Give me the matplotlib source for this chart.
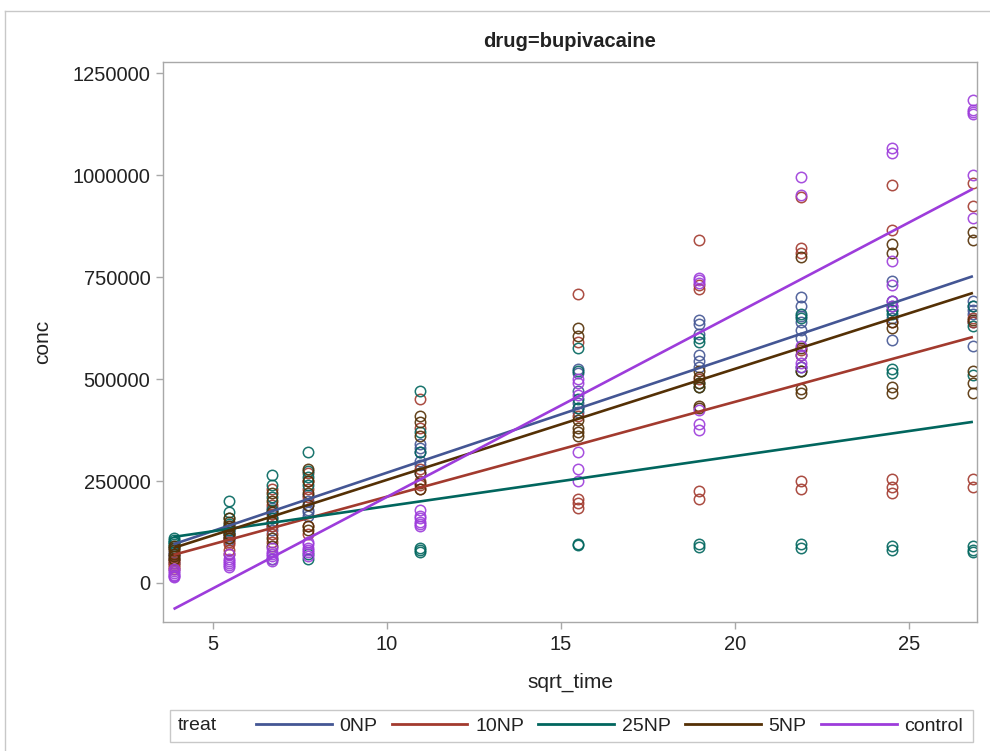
import matplotlib
matplotlib.use("Agg")
import matplotlib.pyplot as plt
from matplotlib.lines import Line2D
from matplotlib.patches import Rectangle

plt.rcParams['font.family'] = ['Liberation Sans', 'DejaVu Sans']

# sqrt of sampling time
sqrt_time = [3.873, 5.477, 6.708, 7.746, 10.954, 15.492, 18.974, 21.909, 24.495, 26.833]

treats = ["0NP", "10NP", "25NP", "5NP", "control"]
colors = ["#445694", "#A23A2E", "#01665E", "#543005", "#9D3CDB"]

# concentrations: one row per time point, replicates within a row
conc_0NP = [
    [60e3, 75e3, 85e3, 50e3, 65e3, 70e3],
    [130e3, 115e3, 140e3, 110e3, 125e3, 105e3],
    [160e3, 140e3, 175e3, 150e3, 130e3, 185e3],
    [200e3, 190e3, 175e3, 165e3, 215e3, 180e3],
    [340e3, 330e3, 320e3, 290e3, 270e3, 300e3],
    [525e3, 515e3, 470e3, 440e3, 420e3, 430e3],
    [645e3, 635e3, 610e3, 560e3, 545e3, 530e3],
    [700e3, 680e3, 640e3, 620e3, 600e3, 655e3],
    [740e3, 690e3, 680e3, 670e3, 595e3, 650e3],
    [690e3, 680e3, 670e3, 640e3, 580e3, 660e3],
]
conc_10NP = [
    [35e3, 45e3, 55e3, 60e3, 40e3, 50e3],
    [80e3, 95e3, 110e3, 70e3, 100e3, 120e3],
    [230e3, 190e3, 140e3, 120e3, 170e3, 100e3],
    [250e3, 230e3, 210e3, 140e3, 270e3, 120e3],
    [450e3, 380e3, 280e3, 250e3, 240e3, 230e3],
    [708e3, 590e3, 410e3, 205e3, 195e3, 185e3],
    [840e3, 730e3, 720e3, 500e3, 225e3, 205e3],
    [945e3, 820e3, 810e3, 570e3, 250e3, 230e3],
    [975e3, 865e3, 640e3, 255e3, 235e3, 220e3],
    [980e3, 925e3, 650e3, 640e3, 255e3, 235e3],
]
conc_25NP = [
    [110e3, 100e3, 95e3, 105e3, 90e3, 100e3],
    [200e3, 175e3, 160e3, 145e3, 120e3, 130e3],
    [265e3, 240e3, 210e3, 180e3, 160e3, 60e3],
    [320e3, 275e3, 260e3, 240e3, 60e3, 70e3],
    [470e3, 370e3, 320e3, 85e3, 75e3, 80e3],
    [575e3, 520e3, 450e3, 430e3, 95e3, 92e3],
    [600e3, 590e3, 490e3, 480e3, 95e3, 88e3],
    [660e3, 650e3, 530e3, 520e3, 95e3, 85e3],
    [670e3, 660e3, 525e3, 515e3, 90e3, 82e3],
    [680e3, 630e3, 510e3, 90e3, 80e3, 75e3],
]
conc_5NP = [
    [80e3, 70e3, 90e3, 65e3, 85e3, 60e3],
    [150e3, 140e3, 120e3, 160e3, 110e3, 135e3],
    [220e3, 200e3, 110e3, 90e3, 175e3, 150e3],
    [280e3, 250e3, 220e3, 140e3, 130e3, 190e3],
    [410e3, 395e3, 360e3, 270e3, 245e3, 230e3],
    [625e3, 605e3, 400e3, 380e3, 370e3, 360e3],
    [520e3, 505e3, 490e3, 435e3, 430e3, 480e3],
    [800e3, 575e3, 560e3, 475e3, 465e3, 520e3],
    [830e3, 810e3, 640e3, 625e3, 480e3, 465e3],
    [860e3, 840e3, 520e3, 490e3, 465e3, 645e3],
]
conc_control = [
    [20e3, 25e3, 30e3, 15e3, 35e3, 18e3],
    [40e3, 50e3, 60e3, 70e3, 45e3, 55e3],
    [55e3, 65e3, 75e3, 85e3, 60e3, 70e3],
    [75e3, 85e3, 95e3, 100e3, 65e3, 80e3],
    [180e3, 165e3, 150e3, 140e3, 160e3, 145e3],
    [500e3, 490e3, 460e3, 320e3, 280e3, 250e3],
    [748e3, 742e3, 735e3, 425e3, 390e3, 375e3],
    [995e3, 950e3, 580e3, 560e3, 540e3, 530e3],
    [1065e3, 1055e3, 790e3, 730e3, 690e3, 680e3],
    [1185e3, 1160e3, 1150e3, 1000e3, 895e3, 1155e3],
]
conc_by_treat = [conc_0NP, conc_10NP, conc_25NP, conc_5NP, conc_control]

# fitted regression values at the first and last time point
fit_first = [95e3, 69e3, 113e3, 86e3, -64e3]
fit_last = [752e3, 603e3, 395e3, 711e3, 966e3]

W, H = 990, 751
fig = plt.figure(figsize=(W / 100, H / 100), dpi=100)

# outer frame
fig.add_artist(Line2D([5 / W, 1], [1 - 11 / H, 1 - 11 / H], color="#c8c8c8", lw=1))
fig.add_artist(Line2D([5 / W, 5 / W], [0, 1 - 11 / H], color="#c8c8c8", lw=1))

left, right, top, bottom = 163, 977, 62, 622
ax = fig.add_axes([left / W, 1 - bottom / H, (right - left) / W, (bottom - top) / H])

for conc, col in zip(conc_by_treat, colors):
    for xv, reps in zip(sqrt_time, conc):
        ax.plot([xv] * len(reps), reps, linestyle="none", marker="o", ms=7.5,
                mfc="none", mec=col, mew=1.1, alpha=0.9, zorder=2)

for f0, f1, col, name in zip(fit_first, fit_last, colors, treats):
    ax.plot([sqrt_time[0], sqrt_time[-1]], [f0, f1], color=col, lw=1.9, zorder=3,
            label=name, solid_capstyle="butt")

ax.set_xlim(3.57, 26.95)
ax.set_ylim(-95600, 1277000)
ax.set_xticks([5, 10, 15, 20, 25])
ax.set_yticks([0, 250000, 500000, 750000, 1000000, 1250000])
ax.set_yticklabels(["0", "250000", "500000", "750000", "1000000", "1250000"])

for s in ax.spines.values():
    s.set_color("#a8a8a8")
    s.set_linewidth(1)
ax.tick_params(axis="both", colors="#a8a8a8", labelcolor="#222222",
               labelsize=14.5, length=5, width=1)
ax.tick_params(axis="x", pad=4)
ax.tick_params(axis="y", pad=4)

ax.set_xlabel("sqrt_time", fontsize=15, color="#222222", labelpad=14)
ax.set_ylabel("conc", fontsize=15, color="#222222", labelpad=15)
ax.set_title("drug=bupivacaine", fontsize=14.5, fontweight="bold", color="#222222", pad=11)

# legend box
fig.add_artist(Rectangle((170 / W, 1 - 742 / H), (973 - 170) / W, 32 / H,
                         transform=fig.transFigure, fill=False,
                         edgecolor="#c8c8c8", lw=1))
fig.text(178 / W, 1 - 726 / H, "treat", fontsize=14, color="#222222",
         ha="left", va="center")
handles = [Line2D([], [], color=c, lw=2) for c in colors]
fig.legend(handles, treats, loc="center left",
           bbox_to_anchor=(246 / W, 1 - 726 / H), ncol=5, frameon=False,
           fontsize=14, handlelength=3.9, handletextpad=0.41,
           columnspacing=0.72, borderpad=0, labelcolor="#222222")

fig.savefig("out.png", dpi=100)
